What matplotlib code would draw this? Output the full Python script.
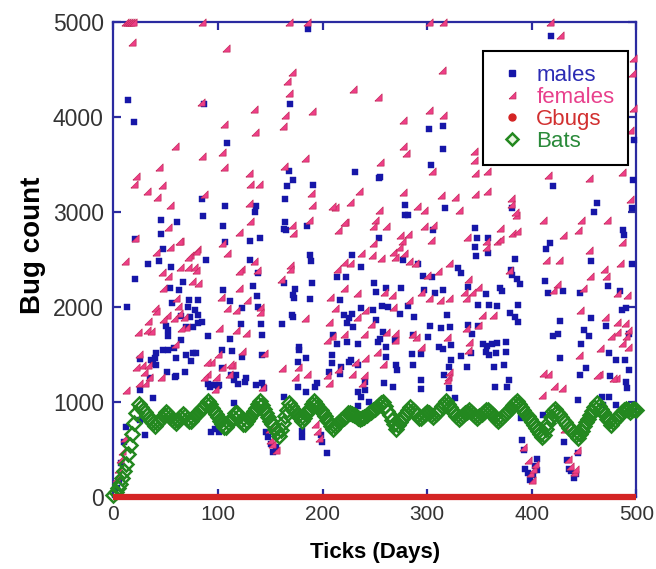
import numpy as np
import matplotlib
matplotlib.use("Agg")
import matplotlib.pyplot as plt
from matplotlib.lines import Line2D

plt.rcParams['font.family'] = ['Liberation Sans', 'DejaVu Sans']

# ---------------- data (day, count) ----------------
male_points = [
    (14,4180),(20,3950),(87,4140),(186,4925),(169,4140),(109,3730),(168,3430),(172,3340),(166,3270),(191,3285),
    (164,3135),(231,3420),(254,3360),(85,3135),(107,3060),(86,2960),(45,2920),(61,2890),(45,2770),(21,2720),
    (47,2610),(105,2850),(136,3060),(135,3000),(131,2700),(140,2730),(164,2890),(165,2810),(185,2850),(228,2550),
    (254,2730),(107,2680),
    (418,4850),(302,3875),(315,3910),(315,3665),(304,3495),(498,3760),(255,3365),(420,3270),(279,3075),(279,2970),
    (282,2970),(317,3040),(381,3040),(462,3100),(460,3000),(497,3340),(496,3040),(306,2810),(346,2830),(348,2730),
    (358,2730),(346,2635),(417,2670),(414,2615),(487,2810),(488,2760),(384,2510),
    (44,2485),(33,2450),(21,2295),(55,2425),(88,2500),(131,2500),(138,2355),(66,2260),(54,2200),(63,2180),
    (105,2180),(133,2220),(137,2120),(163,2820),(161,1820),(13,2005),(56,2045),(72,2070),(81,2070),(71,2000),
    (78,1965),(81,1915),(73,1900),(65,1910),(81,1835),(85,1840),(76,1790),(69,1790),(111,2065),(123,1985),
    (138,2005),(141,1820),(122,1820),(50,1795),(52,1760),(52,1700),(65,1655),(90,1700),(111,1665),(142,1705),
    (58,1565),(52,1550),(47,1545),(41,1520),(40,1460),(69,1495),(76,1520),(79,1520),(36,1440),(60,1460),
    (74,1430),(104,1550),(113,1540),(123,1470),(142,1495),(25,1450),(38,1400),(51,1320),(60,1270),(68,1320),
    (35,1250),(104,1355),(117,1280),(115,1230),(119,1190),(93,1180),(97,1180),(101,1175),(90,1190),(126,1215),
    (136,1180),(142,1200),
    (188,2550),(189,2480),(237,2425),(277,2500),(291,2450),(296,2330),(305,2315),(214,2315),(222,2315),(249,2255),
    (190,2255),(174,2185),(173,2100),(188,2080),(217,2075),(251,2160),(261,2205),(275,2195),(297,2180),(307,2145),
    (315,2180),(171,1915),(172,1890),(220,1915),(225,1880),(228,1930),(223,1830),(229,1785),(237,1985),(248,1965),
    (257,2010),(251,1865),(263,2000),(274,1930),(282,2010),(287,1895),(303,1800),(313,1775),(322,1790),(319,1915),
    (210,1705),(214,1615),(223,1635),(234,1615),(258,1740),(255,1665),(261,1580),(269,1650),(286,1705),(285,1510),
    (294,1510),(270,1390),(301,1685),(311,1580),(315,1560),(323,1600),(177,1580),(176,1425),(184,1460),(209,1495),
    (225,1425),(234,1385),(253,1635),(261,1470),(271,1335),(286,1390),(294,1230),(321,1370),(217,1295),(241,1210),
    (206,1320),(195,1200),(259,1195),(316,1280),
    (358,2565),(347,2540),(457,2485),(496,2450),(329,2410),(332,2360),(381,2340),(386,2290),(389,2245),(380,2390),
    (370,2205),(372,2165),(413,2270),(430,2165),(416,2145),(446,2145),(473,2220),(484,2165),(339,2210),(356,2140),
    (359,2025),(367,2010),(349,2025),(387,2025),(379,1940),(384,1900),(387,1840),(486,1970),(490,1985),(427,1855),
    (425,1720),(420,1690),(457,1880),(450,1755),(455,1690),(447,1615),(471,1800),(493,1720),(339,1810),(349,1795),
    (343,1720),(353,1615),(357,1585),(362,1615),(367,1620),(375,1630),(375,1530),(356,1530),(366,1515),(342,1515),
    (359,1495),(332,1480),(338,1370),(323,1445),(364,1370),(373,1390),(474,1515),(489,1445),(481,1445),(493,1340),
    (490,1215),(452,1355),(475,1275),(427,1460),(446,1285),(378,1230),
    (41,1390),(25,1125),(38,1040),(30,650),(25,810),(59,1265),(92,1160),(100,1170),(93,680),(101,680),
    (97,720),(112,1285),(115,985),(127,1250),(144,1145),(146,685),(148,630),(151,560),(153,475),(155,530),
    (163,1055),(180,700),(180,630),(198,650),(199,580),(204,460),(176,1160),(184,1110),(193,1160),(209,1410),
    (218,1370),(227,1440),(234,1110),(237,1055),(241,1125),(244,1005),(234,955),(163,2250),(172,2130),(177,1550),
    (267,1160),(294,1135),(321,1145),(327,1040),(365,1160),(376,1160),(390,830),(391,600),(393,495),(394,300),
    (396,250),(398,180),(401,230),(403,330),(405,280),(405,405),(411,860),(431,580),(434,385),(436,300),
    (438,270),(440,200),(442,240),(444,1020),(444,460),(467,1050),(468,965),(474,1050),(481,965),(491,1150),
    (5,180),(7,360),(10,580),(12,740),(3,100),
]

female_points = [
    (18,4790),(108,4730),(171,4470),(166,4375),(168,4250),(229,4295),(253,4215),(84,4160),(134,4080),(190,4065),
    (164,4020),(162,3910),(106,3930),(135,3840),(59,3700),(85,3590),(104,3630),(106,3470),(183,3570),(44,3470),
    (22,3380),(20,3300),(163,3480),(130,3410),(46,3285),(32,3220),(42,3160),(131,3300),(139,3300),(87,3190),
    (189,3205),(235,3220),(255,3530),(54,3075),(130,3090),(190,3075),(226,3110),(212,3050),(52,2840),(64,2700),
    (54,2635),(41,2580),(21,2730),(80,2615),(73,2550),(104,2670),(120,2790),(131,2910),(171,2860),(172,2775),
    (187,2915),(215,2810),(221,2900),(250,2915),(248,2850),(254,3020),
    (11,5000),(13,5000),(15,5000),(17,5000),(19,5000),(85,5000),(168,5000),(185,5000),(302,5000),(315,5000),
    (417,5000),
    (427,4865),(497,4620),(496,4460),(314,4490),(497,4100),(494,3860),(302,4070),(315,4020),(277,3970),(277,3695),
    (280,3620),(305,3430),(345,3640),(345,3550),(346,3415),(357,3435),(416,3385),(455,3360),(486,3425),(494,3135),
    (277,3210),(313,3180),(327,3160),(346,3190),(357,3225),(290,3060),(297,3020),(330,3020),(380,3145),(380,3080),
    (385,2970),(411,2915),(447,2915),(472,2915),(444,2815),(430,2760),(261,2850),(274,2760),(276,2700),(297,2850),
    (304,2705),(338,2740),(356,2635),(367,2690),(370,2720),(370,2830),(381,2775),(386,2795),(455,2600),(267,2580),
    (63,2690),(71,2530),(79,2585),(77,2425),(71,2425),(64,2425),(79,2390),(11,2485),(46,2370),(52,2325),
    (81,2255),(75,2275),(47,2200),(60,2090),(109,2565),(134,2480),(122,2405),(120,2380),(137,2390),(160,2295),
    (120,2200),(103,2110),(128,2075),(109,1985),(117,1970),(140,2000),(140,1950),(40,1985),(41,1960),(51,1915),
    (47,1870),(33,1855),(32,1760),(36,1745),(62,2010),(63,1940),(67,1890),(69,1790),(58,1880),(65,1775),
    (101,1775),(117,1760),(127,1730),(23,1740),(59,1610),(24,1505),(100,1510),(93,1425),(89,1425),(123,1540),
    (144,1520),(27,1390),(29,1320),(34,1260),(24,1200),(89,1300),(98,1260),(113,1390),(110,1290),(45,1260),
    (161,1355),
    (209,3060),(220,2890),(282,2770),(306,2865),(248,2670),(273,2635),(169,2440),(169,2405),(214,2405),(220,2475),
    (226,2465),(237,2565),(247,2550),(256,2515),(269,2530),(278,2565),(283,2480),(288,2460),(300,2340),(310,2375),
    (321,2465),(220,2200),(207,2110),(233,2145),(259,2160),(266,2125),(283,2075),(294,2160),(302,2090),(312,2075),
    (321,2090),(220,1720),(233,1895),(241,1965),(267,2000),(269,1730),(261,1740),(240,1720),(246,1825),(212,1985),
    (206,1845),(209,1690),(204,1655),(183,1880),(176,1370),(231,1425),(241,1460),(252,1530),(258,1400),(269,1650),
    (285,1720),(289,1685),(294,1580),(319,1685),(321,1320),(204,1285),(206,1200),(240,1285),(320,1265),
    (384,3005),(356,2690),(486,2680),(414,2495),(426,2495),(484,2460),(469,2395),(378,2390),(339,2290),(349,2215),
    (343,2160),(335,2160),(449,2200),(424,2245),(420,2180),(456,2325),(471,2325),(482,2150),(491,2125),(337,2090),
    (446,1970),(470,1895),(482,1840),(489,1830),(492,1760),(352,1915),(363,1915),(349,1815),(337,1780),(482,1740),
    (490,1690),(492,1580),(476,1690),(465,1565),(445,1495),(416,1300),(464,1300),(481,1250),(486,1625),(340,1630),
    (339,1545),
    (2,200),(4,300),(6,400),(8,480),(10,620),(12,1130),(22,1370),(33,1390),(30,1200),(87,1265),
    (104,1370),(111,1405),(97,1140),(142,1160),(149,720),(150,600),(152,560),(155,500),(174,1265),(193,770),
    (195,700),(197,620),(185,1300),(215,1350),(228,1300),(238,1200),
    (319,1230),(392,530),(396,390),(398,250),(400,180),(401,300),(403,350),(411,1305),(410,1075),(421,1165),
    (429,1150),(431,720),(435,400),(437,330),(440,260),(441,300),(443,500),(462,1280),(478,1250),
]

# Bats: one reading every 2 days, day 0 .. 500
bat_counts = [
    20, 50, 90, 140, 200, 270, 350, 450, 550, 660, 780, 880, 980,
    950, 920, 890, 865, 835, 805, 780, 750,
    780, 805, 835, 860, 890,
    870, 845, 825, 800, 780,
    810, 840, 870,
    850, 825, 800,
    800, 830, 860,
    875, 900, 925, 950, 980, 1010,
    975, 940, 905, 875, 840, 805, 770, 735,
    740, 775, 810, 845, 880,
    885, 850, 810, 770,
    765, 800, 835, 870, 905, 940, 975, 1010,
    970, 930, 885, 845, 805, 765, 720, 680, 640,
    710, 780, 850, 920, 990,
    960, 930, 895, 865, 830, 800,
    835, 870, 905, 940, 975, 1010,
    980, 945, 915, 880, 850, 815, 785, 750, 720,
    745, 765, 790, 810, 830, 855, 880,
    885, 870, 860, 850, 835, 825,
    830, 845, 860, 880, 895, 915, 930, 950, 965, 985, 1000,
    955, 910, 860, 815, 765, 720,
    755, 785, 820, 850, 885, 915, 950,
    920, 890, 865, 835,
    830, 855, 875, 900,
    880, 860, 840,
    870, 895, 925, 955, 980, 1010,
    980, 945, 915, 885, 850, 820,
    840, 860, 880, 900, 920,
    895, 875, 850, 830,
    850, 875, 895, 920,
    920, 895, 870, 850, 825, 800,
    825, 845, 870, 895, 915, 940, 965, 985, 1010,
    980, 950, 915, 885, 855, 820, 790, 760, 730, 695, 665, 635,
    650, 715, 780, 845, 910,
    925, 900, 870, 845, 815, 790, 760, 730, 705, 675, 650, 620,
    660, 700, 745, 785, 825, 865, 910, 950, 990,
    960, 925, 895, 860, 825, 795, 760,
    785, 810, 840, 865, 890, 915,
    930, 915, 900, 915, 930, 920,
]

gbug_days = [0, 100, 200, 300, 400, 500]
gbug_counts = [0, 0, 0, 0, 0, 0]

series_labels = ['males', 'females', 'Gbugs', 'Bats']
x_ticks = [0, 100, 200, 300, 400, 500]
y_ticks = [0, 1000, 2000, 3000, 4000, 5000]

# ---------------- styling ----------------
c_male = '#1616a8'
c_female = '#ee3f88'
c_female_edge = '#c42c5c'
c_gbug = '#d42424'
c_bat = '#23881f'
c_spine = '#2a2aa0'
tri = [(-1, -1), (1, -1), (1, 1), (-1, -1)]

fig = plt.figure(figsize=(6.56, 5.69), dpi=100)
ax = fig.add_axes([0.173, 0.1265, 0.797, 0.8348])

md, mv = zip(*male_points)
fd, fv = zip(*female_points)
bat_days = np.arange(len(bat_counts)) * 2

ax.plot(md, mv, linestyle='none', marker='s', ms=3.9, mfc=c_male, mec=c_male,
        mew=0.3, clip_on=False, zorder=3)
ax.plot(fd, fv, linestyle='none', marker=tri, ms=5.2, mfc=c_female, mec=c_female_edge,
        mew=0.5, clip_on=False, zorder=4)
ax.plot(gbug_days, gbug_counts, linestyle='-', lw=4.5, color=c_gbug,
        clip_on=False, zorder=6, solid_capstyle='butt')
ax.plot(bat_days, bat_counts, linestyle='none', marker='D', ms=6.8, mfc='none',
        mec=c_bat, mew=1.8, clip_on=False, zorder=5)

ax.set_xlim(0, 500)
ax.set_ylim(0, 5000)
ax.set_xticks(x_ticks)
ax.set_yticks(y_ticks)
for s in ax.spines.values():
    s.set_color(c_spine)
    s.set_linewidth(1.6)
ax.tick_params(direction='in', length=6, width=1.6, color=c_spine, top=True, right=True,
               labelcolor='#333333')
ax.tick_params(axis='y', labelsize=16.5, pad=7)
ax.tick_params(axis='x', labelsize=15, pad=6)

ax.set_xlabel('Ticks (Days)', fontsize=16, fontweight='bold', labelpad=13)
ax.set_ylabel('Bug count', fontsize=20, fontweight='bold')
ax.yaxis.set_label_coords(-0.13, 0.53)

handles = [
    Line2D([], [], linestyle='none', marker='s', ms=4, mfc=c_male, mec=c_male),
    Line2D([], [], linestyle='none', marker=tri, ms=5, mfc=c_female, mec=c_female_edge, mew=0.5),
    Line2D([], [], linestyle='none', marker='o', ms=5, mfc=c_gbug, mec=c_gbug),
    Line2D([], [], linestyle='none', marker='D', ms=6, mfc='#e8f5e0', mec=c_bat, mew=1.8),
]
leg = ax.legend(handles, series_labels, loc='upper left', bbox_to_anchor=(0.736, 0.910),
                bbox_transform=fig.transFigure, fontsize=16, frameon=True, fancybox=False,
                edgecolor='black', framealpha=1, numpoints=1, handlelength=1.4,
                handletextpad=0.4, labelspacing=0.05, borderpad=0.6, borderaxespad=0)
leg.get_frame().set_linewidth(1.5)
for t, c in zip(leg.get_texts(), ['#2b2bb4', '#e8408c', '#d23030', '#2a8a3a']):
    t.set_color(c)
leg.set_zorder(10)

fig.savefig('out.png', dpi=100)
